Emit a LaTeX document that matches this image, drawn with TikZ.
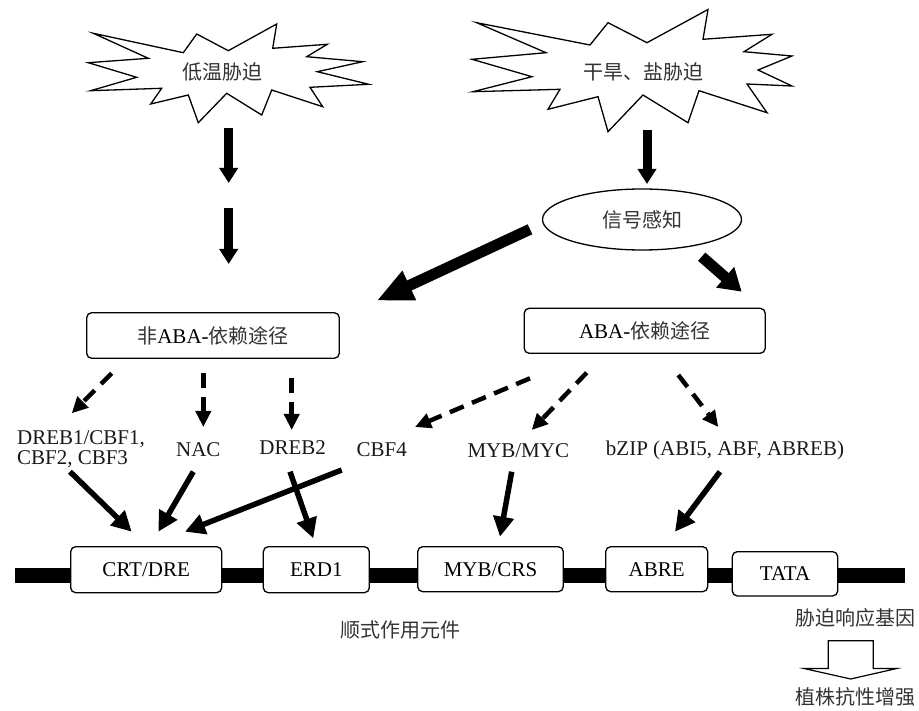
\documentclass[tikz,border=0pt]{standalone}
\usepackage{fontspec}
\setmainfont{Liberation Serif}
\newfontfamily\mycjk{Noto Sans CJK SC}
\newcommand\mylat{\fontsize{21}{20}\selectfont}
\newcommand\zh[1]{{\mycjk\fontsize{20}{24}\selectfont\color{black!80}#1}}
\usetikzlibrary{arrows.meta,shapes.geometric}
\begin{document}
\begin{tikzpicture}[x=1pt,y=-1pt,
  txt/.style={inner sep=0pt, font=\mylat, text=black!90},
  pbox/.style={draw, rounded corners=5pt, line width=1.3pt, fill=white, inner sep=0pt, font=\mylat},
  burst/.style={draw, line width=1.3pt, line join=miter, fill=white},
  thickv/.style={line width=9pt, -{Triangle[width=18pt,length=15pt]}},
  bigdiag/.style={line width=11pt, -{Triangle[width=30pt,length=36pt]}},
  meddiag/.style={line width=11pt, -{Triangle[width=26pt,length=22pt]}},
  solidarr/.style={line width=5.5pt, -{Triangle[width=20pt,length=20pt]}},
  dasharr/.style={line width=4.5pt, dash pattern=on 15pt off 9pt, -{Triangle[width=15pt,length=16pt]}}
]
\useasboundingbox (0,0) rectangle (919,711);

% starbursts
\draw[burst] (93.3,33.3) -- (183.3,52.7) -- (196.7,34) -- (228.3,50.7) -- (276.7,24) -- (272.7,48.3)
  -- (327.3,44.3) -- (306.7,56.7) -- (362.7,61.7) -- (317.3,71.7) -- (368.7,84.3) -- (310,87.3)
  -- (322.7,106.7) -- (271.7,90) -- (261.7,115) -- (226.7,93.3) -- (198.3,122.7) -- (188.3,95)
  -- (150.7,104) -- (161.7,88.3) -- (90.7,90.7) -- (136.7,77.3) -- (88.3,62.7) -- (148.3,58.3) -- cycle;
\node[inner sep=0pt] (low) at (222,72) {\zh{低温胁迫}};

\draw[burst] (476.7,22.7) -- (590,45) -- (608,22.7) -- (647,42.7) -- (708,9.5) -- (703,39.3)
  -- (772,34.3) -- (744,51.7) -- (792,56) -- (758,70) -- (792,86) -- (747,84) -- (767,112.7)
  -- (699,90.7) -- (688,122.7) -- (643,95) -- (608,131.7) -- (598,96.7) -- (548,109.3)
  -- (560,89.3) -- (473,91.7) -- (532,76.7) -- (472,59.3) -- (546,52.7) -- cycle;
\node[inner sep=0pt] (dry) at (643,72) {\zh{干旱、盐胁迫}};

% signal ellipse
\node[draw, ellipse, line width=1.3pt, minimum width=199pt, minimum height=61pt, inner sep=0pt] (sig) at (642,219.5) {\zh{信号感知}};

% pathway boxes
\node[pbox, minimum width=252.6pt, minimum height=45.6pt] (nonaba) at (213,335.5) {\zh{非}ABA-\zh{依赖途径}};
\node[pbox, minimum width=241pt, minimum height=45pt] (aba) at (644.7,330.8) {ABA-\zh{依赖途径}};

% transcription factor labels
\node[txt, align=left] (dreb1) at (81,449) {DREB1/CBF1,\\CBF2, CBF3};
\node[txt] (nac) at (198.3,450) {NAC};
\node[txt] (dreb2) at (292.7,448) {DREB2};
\node[txt] (cbf4) at (381.7,450) {CBF4};
\node[txt] (mybmyc) at (518.3,451) {MYB/MYC};
\node[txt] (bzip) at (725,450) {bZIP (ABI5, ABF, ABREB)};

% promoter bar and elements
\coordinate (barL) at (15,575);
\coordinate (barR) at (905,575);
\draw[line width=15pt] (barL) -- (barR);
\node[pbox, minimum width=151pt, minimum height=46pt] (crt) at (146.2,569.7) {CRT/DRE};
\node[pbox, minimum width=106pt, minimum height=46pt] (erd) at (316.3,569.7) {ERD1};
\node[pbox, minimum width=145.6pt, minimum height=45pt] (mybcrs) at (490.5,569.2) {MYB/CRS};
\node[pbox, minimum width=102pt, minimum height=45pt] (abre) at (656.7,569.2) {ABRE};
\node[pbox, minimum width=105.4pt, minimum height=44.3pt] (tata) at (785,573.8) {TATA};

\node[inner sep=0pt] (cis) at (400,630) {\zh{顺式作用元件}};
\node[inner sep=0pt] (srg) at (855,618) {\zh{胁迫响应基因}};
\node[inner sep=0pt] (res) at (855,697) {\zh{植株抗性增强}};

% hollow arrow
\draw[line width=1.2pt, line join=miter] (828.3,640.7) -- (873.3,640.7) -- (873.3,668.5) -- (896.7,668.5)
  -- (850.7,679) -- (804,668.5) -- (828.3,668.5) -- cycle;

% coordinates for arrow ends
\coordinate (v1s) at (228.7,128); \coordinate (v1e) at (228.7,183);
\coordinate (v2s) at (228.7,208); \coordinate (v2e) at (228.7,264);
\coordinate (v3s) at (647,130);   \coordinate (v3e) at (647,184);
\coordinate (d1s) at (530,229.3); \coordinate (d1e) at (376.7,300.7);
\coordinate (d2s) at (701.7,256.7); \coordinate (d2e) at (741.7,291.7);

\coordinate (n1s) at (111.7,373.3); \coordinate (n1e) at (71.7,413.3);
\coordinate (n2s) at (203.3,373.3); \coordinate (n2e) at (203.3,427);
\coordinate (n3s) at (291.7,378.3); \coordinate (n3e) at (291.7,430);
\coordinate (a1s) at (530,378.3);   \coordinate (a1e) at (415,427);
\coordinate (a2s) at (586.7,372.7); \coordinate (a2e) at (531.7,430);
\coordinate (a3s) at (678.3,375);   \coordinate (a3e) at (718.3,427);

\coordinate (s1s) at (70,471.7);    \coordinate (s1e) at (131.7,531.7);
\coordinate (s2s) at (193.3,471.7); \coordinate (s2e) at (158.3,531.7);
\coordinate (s3s) at (341.7,470);   \coordinate (s3e) at (185,531.7);
\coordinate (s4s) at (290,471.7);   \coordinate (s4e) at (313.3,538.3);
\coordinate (s5s) at (511.7,471.7); \coordinate (s5e) at (500,536.7);
\coordinate (s6s) at (720,471.7);   \coordinate (s6e) at (675,531.7);

% thick arrows
\draw[thickv] (v1s) -- (v1e);
\draw[thickv] (v2s) -- (v2e);
\draw[thickv] (v3s) -- (v3e);
\draw[bigdiag] (d1s) -- (d1e);
\draw[meddiag] (d2s) -- (d2e);

% dashed arrows
\draw[dasharr] (n1s) -- (n1e);
\draw[dasharr] (n2s) -- (n2e);
\draw[dasharr] (n3s) -- (n3e);
\draw[dasharr] (a1s) -- (a1e);
\draw[dasharr] (a2s) -- (a2e);
\draw[dasharr] (a3s) -- (a3e);

% solid arrows
\draw[solidarr] (s1s) -- (s1e);
\draw[solidarr] (s2s) -- (s2e);
\draw[solidarr] (s3s) -- (s3e);
\draw[solidarr] (s4s) -- (s4e);
\draw[solidarr] (s5s) -- (s5e);
\draw[solidarr] (s6s) -- (s6e);
\end{tikzpicture}
\end{document}
